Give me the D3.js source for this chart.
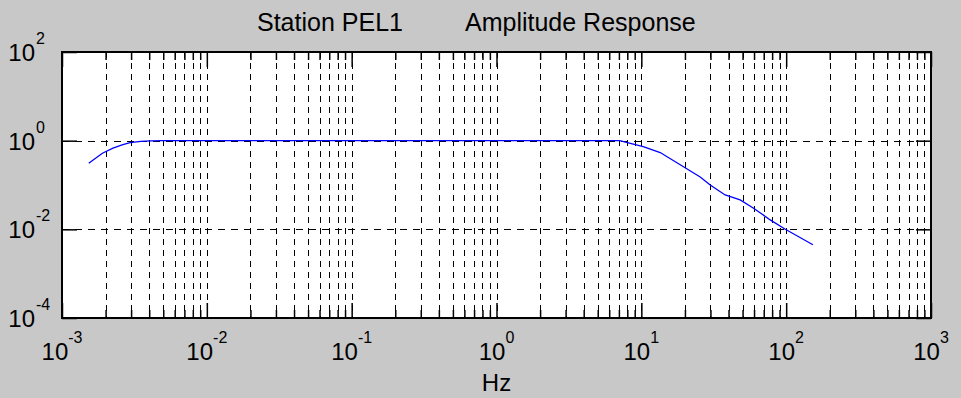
<!DOCTYPE html>
<html>
<head>
<meta charset="utf-8">
<script src="https://cdn.jsdelivr.net/npm/d3@7"></script>
<style>
  body { margin: 0; background: #c8c8c8; }
  svg { display: block; font-family: "Liberation Sans", Arial, sans-serif; }
</style>
</head>
<body>
<div id="viz"></div>
<script>
// amplitude response
const freqs = [0.00153, 0.0019, 0.00225, 0.0026, 0.00295, 0.0035, 0.0041, 0.005,
  7.1, 8.4, 10.3, 13.5, 25.5, 29.9, 37.9, 48.1, 59.2, 77.6, 98, 153];
const amps = [0.31, 0.52, 0.68, 0.8, 0.9, 0.96, 0.99, 1.0,
  1.0, 0.87, 0.73, 0.54, 0.152, 0.1, 0.0597, 0.046, 0.0304, 0.0163, 0.0102, 0.0045];

const xExps = [-3, -2, -1, 0, 1, 2, 3];
const yExps = [-4, -2, 0, 2];
const titleLeft = "Station PEL1";
const titleRight = "Amplitude Response";
const xLabel = "Hz";

const w = 961, h = 398;
const padL = 62, padR = 931, padT = 52, padB = 318;

const svg = d3.select("#viz").append("svg")
  .attr("width", w)
  .attr("height", h);

svg.append("rect").attr("width", w).attr("height", h).attr("fill", "#c8c8c8");

const x = d3.scaleLog().domain([1e-3, 1e3]).range([padL, padR]);
const y = d3.scaleLog().domain([1e-4, 1e2]).range([padB, padT]);

svg.append("rect")
  .attr("x", padL).attr("y", padT)
  .attr("width", padR - padL).attr("height", padB - padT)
  .attr("fill", "#fff");

// minor + major vertical positions
let xMinor = [];
xExps.slice(0, -1).forEach(e => {
  for (let k = 2; k <= 9; k++) xMinor.push(k * Math.pow(10, e));
});
const xMajor = xExps.map(e => Math.pow(10, e));
const yMajor = yExps.map(e => Math.pow(10, e));

//Grid: dashed black
const grid = svg.append("g").attr("stroke", "#000").attr("stroke-width", 1)
  .attr("stroke-dasharray", "6,5").attr("fill", "none");
grid.selectAll(".vg").data(xMinor.concat(xMajor.slice(1, -1))).enter().append("line")
  .attr("x1", d => Math.round(x(d)) + 0.5).attr("x2", d => Math.round(x(d)) + 0.5)
  .attr("y1", padT).attr("y2", padB);
grid.selectAll(".hg").data(yMajor.slice(1, -1)).enter().append("line")
  .attr("y1", d => Math.round(y(d)) + 0.5).attr("y2", d => Math.round(y(d)) + 0.5)
  .attr("x1", padL).attr("x2", padR)
  .attr("stroke-dasharray", "7,6");

// the response curve
const line = d3.line().x(d => x(d[0])).y(d => y(d[1]));
svg.append("path")
  .datum(freqs.map((f, i) => [f, amps[i]]))
  .attr("d", line)
  .attr("fill", "none")
  .attr("stroke", "#0000ff")
  .attr("stroke-width", 1.3);

// ticks with d3 axes, labels drawn separately for superscripts
const noLabel = () => "";
function tickAxis(axis, g) {
  g.call(axis);
  g.select(".domain").remove();
  g.selectAll("line").attr("stroke", "#000").attr("stroke-width", 1.5);
  g.selectAll("text").remove();
}
tickAxis(d3.axisBottom(x).tickValues(xMajor).tickSize(-15).tickFormat(noLabel),
  svg.append("g").attr("transform", `translate(0,${padB})`));
tickAxis(d3.axisBottom(x).tickValues(xMinor).tickSize(-8).tickFormat(noLabel),
  svg.append("g").attr("transform", `translate(0,${padB})`));
tickAxis(d3.axisTop(x).tickValues(xMajor).tickSize(-15).tickFormat(noLabel),
  svg.append("g").attr("transform", `translate(0,${padT})`));
tickAxis(d3.axisTop(x).tickValues(xMinor).tickSize(-8).tickFormat(noLabel),
  svg.append("g").attr("transform", `translate(0,${padT})`));
tickAxis(d3.axisLeft(y).tickValues(yMajor).tickSize(-15).tickFormat(noLabel),
  svg.append("g").attr("transform", `translate(${padL},0)`));
tickAxis(d3.axisRight(y).tickValues(yMajor).tickSize(-15).tickFormat(noLabel),
  svg.append("g").attr("transform", `translate(${padR},0)`));

// box
svg.append("rect")
  .attr("x", padL).attr("y", padT)
  .attr("width", padR - padL).attr("height", padB - padT)
  .attr("fill", "none").attr("stroke", "#000").attr("stroke-width", 2);

// tick labels 10^n
function powLabel(sel) {
  sel.append("tspan").attr("font-size", 24).text("10");
  sel.append("tspan").attr("font-size", 16).attr("dy", -17).text(d => d);
}
svg.selectAll(".xl").data(xExps).enter().append("text")
  .attr("x", d => x(Math.pow(10, d)))
  .attr("y", 360)
  .attr("text-anchor", "middle")
  .attr("fill", "#000")
  .call(powLabel);

// y labels: base "10" ends at a fixed x, exponent hangs to the right
const yl = svg.selectAll(".yl").data(yExps).enter().append("g");
yl.append("text")
  .attr("x", 35)
  .attr("y", d => y(Math.pow(10, d)) + 9)
  .attr("text-anchor", "end")
  .attr("font-size", 24).attr("fill", "#000")
  .text("10");
yl.append("text")
  .attr("x", 36)
  .attr("y", d => y(Math.pow(10, d)) - 8)
  .attr("font-size", 16).attr("fill", "#000")
  .text(d => d);

// title + axis label
const title = svg.append("text")
  .attr("x", 257).attr("y", 31)
  .attr("font-size", 25).attr("fill", "#000");
title.append("tspan").text(titleLeft);
title.append("tspan").attr("x", 465).text(titleRight);

svg.append("text")
  .attr("x", (padL + padR) / 2).attr("y", 391)
  .attr("text-anchor", "middle")
  .attr("font-size", 24).attr("fill", "#000")
  .text(xLabel);
</script>
</body>
</html>
